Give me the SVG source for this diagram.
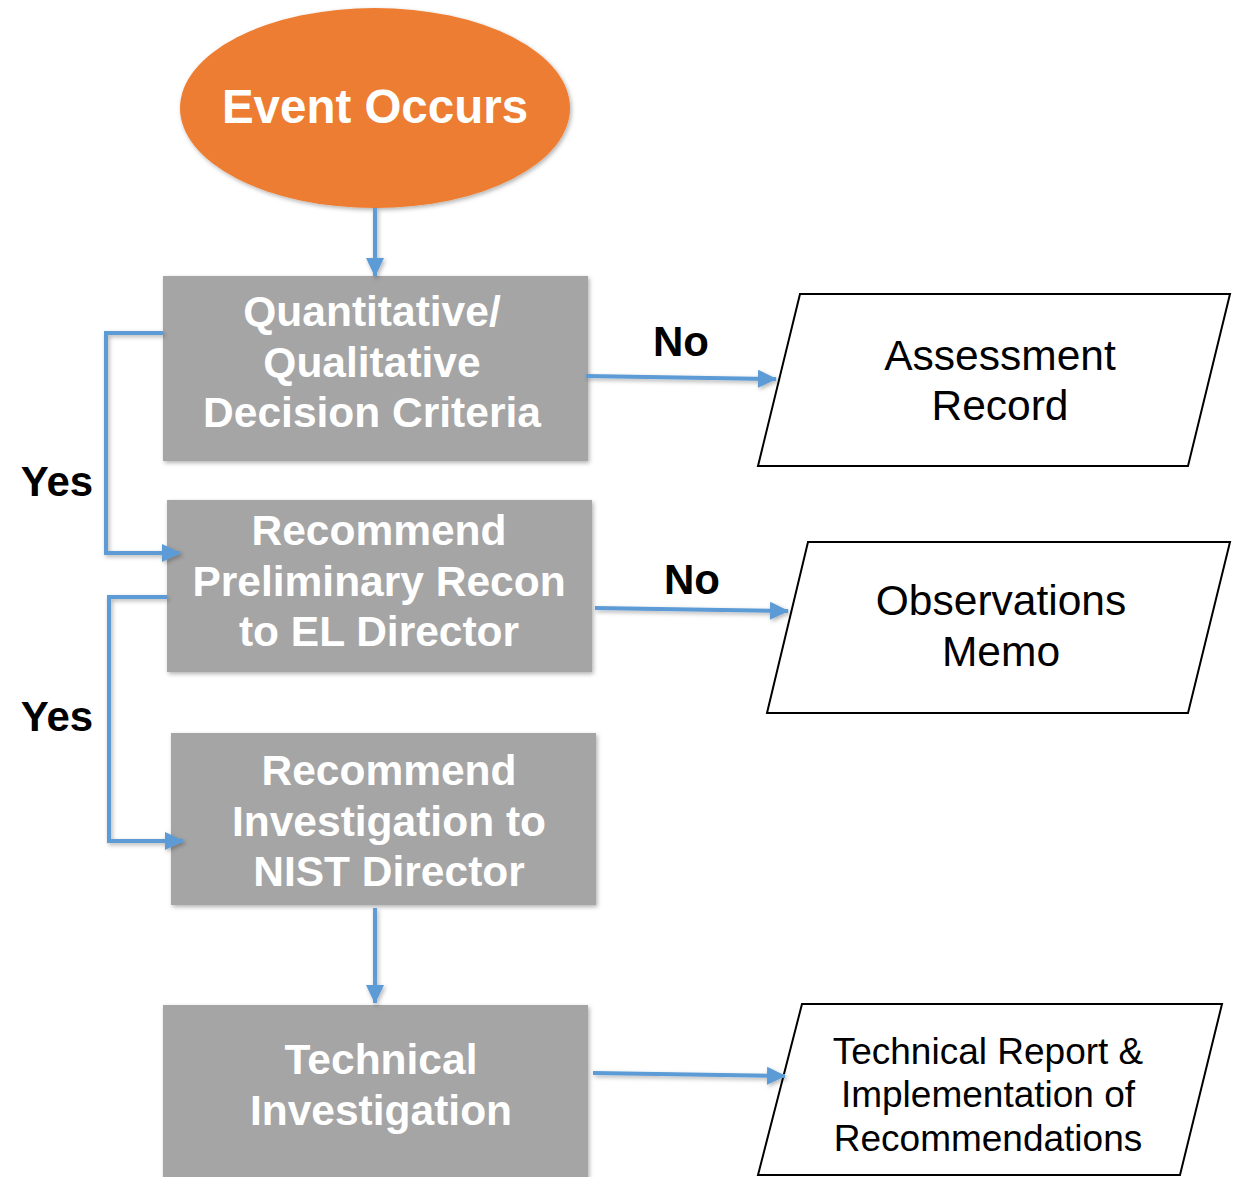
<svg xmlns="http://www.w3.org/2000/svg" width="1235" height="1177" viewBox="0 0 1235 1177">
<style>
.box{fill:#A5A5A5;}
.bt{font-family:"Liberation Sans",Arial,sans-serif;font-weight:bold;font-size:42.5px;fill:#FFFFFF;text-anchor:middle;}
.pg{fill:#FFFFFF;stroke:#000000;stroke-width:2;}
.pt{font-family:"Liberation Sans",Arial,sans-serif;font-size:42.5px;fill:#000000;text-anchor:middle;}
.lbl{font-family:"Liberation Sans",Arial,sans-serif;font-weight:bold;font-size:42px;fill:#000000;text-anchor:middle;}
.conn{fill:none;stroke:#5B9BD5;stroke-width:4;}
</style>
<defs>
<filter id="sh" x="-10%" y="-10%" width="130%" height="130%">
<feDropShadow dx="1.5" dy="2" stdDeviation="2" flood-color="#000" flood-opacity="0.3"/>
</filter>
<marker id="ah" markerUnits="userSpaceOnUse" markerWidth="20" markerHeight="20" viewBox="0 0 20 20" refX="18" refY="10" orient="auto">
<path d="M0,1 L19,10 L0,19 Z" fill="#5B9BD5"/>
</marker>
</defs>
<rect width="1235" height="1177" fill="#FFFFFF"/>

<g id="event">
<ellipse cx="375" cy="108" rx="195" ry="100" fill="#ED7D31" filter="url(#sh)"/>
<text x="375" y="123" class="bt" style="font-size:47.5px">Event Occurs</text>
</g>

<g id="criteria">
<rect class="box" x="163" y="276" width="425" height="185" filter="url(#sh)"/>
<text class="bt" x="372" y="326">Quantitative/</text>
<text class="bt" x="372" y="377">Qualitative</text>
<text class="bt" x="372" y="427">Decision Criteria</text>
</g>

<g id="prelim">
<rect class="box" x="167" y="500" width="425" height="172" filter="url(#sh)"/>
<text class="bt" x="379" y="545">Recommend</text>
<text class="bt" x="379" y="596">Preliminary Recon</text>
<text class="bt" x="379" y="646">to EL Director</text>
</g>

<g id="investigation">
<rect class="box" x="171" y="733" width="425" height="172" filter="url(#sh)"/>
<text class="bt" x="389" y="785">Recommend</text>
<text class="bt" x="389" y="836">Investigation to</text>
<text class="bt" x="389" y="886">NIST Director</text>
</g>

<g id="technical">
<rect class="box" x="163" y="1005" width="425" height="180" filter="url(#sh)"/>
<text class="bt" x="381" y="1074">Technical</text>
<text class="bt" x="381" y="1125">Investigation</text>
</g>

<g id="assessment">
<polygon class="pg" points="800,294 1230,294 1188,466 758,466"/>
<text class="pt" x="1000" y="370">Assessment</text>
<text class="pt" x="1000" y="420">Record</text>
</g>

<g id="memo">
<polygon class="pg" points="808,542 1230,542 1188,713 767,713"/>
<text class="pt" x="1001" y="615">Observations</text>
<text class="pt" x="1001" y="666">Memo</text>
</g>

<g id="report">
<polygon class="pg" points="802,1004 1222,1004 1180,1175 758,1175"/>
<text class="pt" x="988" y="1064" style="font-size:37px">Technical Report &amp;</text>
<text class="pt" x="988" y="1107" style="font-size:37px">Implementation of</text>
<text class="pt" x="988" y="1151" style="font-size:37px">Recommendations</text>
</g>

<g id="connectors" filter="url(#sh)">
<line class="conn" x1="375" y1="208" x2="375" y2="276" marker-end="url(#ah)"/>
<line class="conn" x1="586" y1="376" x2="776" y2="379" marker-end="url(#ah)"/>
<line class="conn" x1="595" y1="608" x2="788" y2="611" marker-end="url(#ah)"/>
<line class="conn" x1="593" y1="1073" x2="785" y2="1076" marker-end="url(#ah)"/>
<line class="conn" x1="375" y1="908" x2="375" y2="1003" marker-end="url(#ah)"/>
<polyline class="conn" points="163,333 106,333 106,553 180,553" marker-end="url(#ah)"/>
<polyline class="conn" points="167,597 109,597 109,841 183,841" marker-end="url(#ah)"/>
</g>

<g id="labels">
<text class="lbl" x="681" y="356">No</text>
<text class="lbl" x="692" y="594">No</text>
<text class="lbl" x="57" y="496">Yes</text>
<text class="lbl" x="57" y="731">Yes</text>
</g>
</svg>
